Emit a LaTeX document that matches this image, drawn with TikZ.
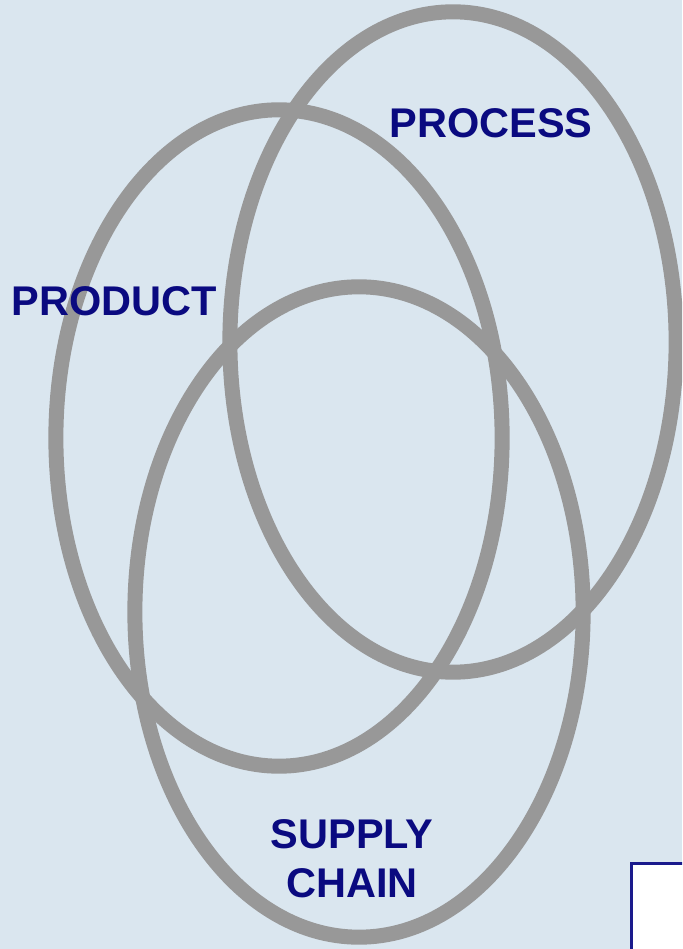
\documentclass[tikz,border=0pt]{standalone}
\usepackage{fontspec}
\setmainfont{Liberation Sans}
\definecolor{bgblue}{HTML}{DAE6EF}
\definecolor{ringgray}{HTML}{989898}
\definecolor{navytext}{HTML}{0A0A80}
\definecolor{boxnavy}{HTML}{1A1A8C}
\tikzset{
  ring/.style={draw=ringgray, line width=0.15cm},
  lbl/.style={text=navytext, font=\fontsize{11.8pt}{14pt}\selectfont\bfseries, inner sep=0pt, align=center},
}
\begin{document}
\begin{tikzpicture}[x=0.01cm, y=-0.01cm]
\useasboundingbox (0,0) rectangle (682,949);
\clip (0,0) rectangle (682,949);
\fill[bgblue] (0,0) rectangle (682,949);
% ellipses
\draw[ring] (279,438) ellipse [x radius=2.23cm, y radius=3.28cm];
\draw[ring] (453,342) ellipse [x radius=2.23cm, y radius=3.30cm];
\draw[ring] (359,612) ellipse [x radius=2.24cm, y radius=3.25cm];
% labels
\node[lbl] (product) at (114,301) {PRODUCT};
\node[lbl] (process) at (491,123) {PROCESS};
\node[lbl, font=\fontsize{11.8pt}{13.9pt}\selectfont\bfseries] (supply) at (352,859) {SUPPLY\\CHAIN};
% partial box
\draw[draw=boxnavy, line width=0.03cm, fill=white] (631.5,863.5) rectangle (720,1000);
\end{tikzpicture}
\end{document}
